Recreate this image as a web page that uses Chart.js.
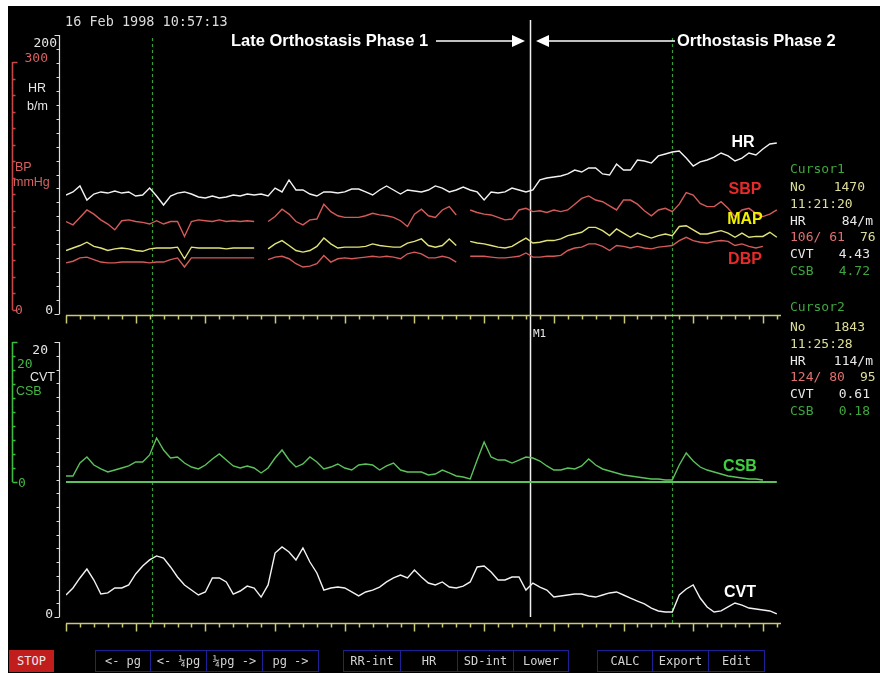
<!DOCTYPE html>
<html>
<head>
<meta charset="utf-8">
<script src="https://cdn.jsdelivr.net/npm/chart.js@4.4.1/dist/chart.umd.min.js"></script>
<style>
  html, body { margin: 0; padding: 0; background: #fff; }
  #screen { position: relative; width: 880px; height: 673px; overflow: hidden; background: #fff; }
  #black { position: absolute; left: 8px; top: 6px; right: 0; bottom: 0; background: #000; }
  #trend { position: absolute; left: 0; top: 0; }
  .btn { position: absolute; top: 650px; height: 22px; box-sizing: border-box; border: 1px solid #1f1f96;
         color: #d2d2d2; font: 12px "DejaVu Sans Mono", monospace; line-height: 20px; text-align: center; white-space: pre; }
  .stop { background: #c21d1d; border-color: #c21d1d; color: #f2e6e6; }
</style>
</head>
<body>
<div id="screen">
  <div id="black"></div>
  <canvas id="trend" width="880" height="673"></canvas>
</div>
<script>
// beat numbers of the samples (x axis)
const beats = [
  1408,1413,1418,1423,1428,1433,1438,1443,1448,1453,
  1458,1463,1468,1473,1478,1483,1488,1493,1498,1503,
  1508,1513,1518,1523,1528,1533,1538,1543,1548,1553,
  1558,1563,1568,1573,1578,1583,1588,1593,1598,1603,
  1608,1613,1618,1623,1628,1633,1638,1643,1648,1653,
  1658,1663,1668,1673,1678,1683,1688,1693,1698,1703,
  1708,1713,1718,1723,1728,1733,1738,1743,1748,1753,
  1758,1763,1768,1773,1778,1783,1788,1793,1798,1803,
  1808,1813,1818,1823,1828,1833,1838,1843,1848,1853,
  1858,1863,1868,1873,1878,1883,1888,1893,1898,1903,
  1908,1913,1918
];

// heart rate, b/m
const hrBpm = [
  85.3,87.5,91.8,81.7,86.0,87.5,86.7,88.2,86.7,87.5,
  84.6,85.3,90.3,84.6,78.1,84.6,86.7,87.5,86.0,83.9,
  83.2,84.6,83.2,83.9,85.3,84.6,86.0,85.3,86.0,84.6,
  90.3,87.5,96.1,88.9,88.9,86.0,84.6,87.5,87.5,86.7,
  87.5,89.6,89.6,87.5,85.3,88.9,91.8,88.9,86.0,88.9,
  88.2,87.5,88.9,91.8,90.3,87.5,88.9,91.0,88.9,87.5,
  81.7,87.5,86.7,87.5,90.3,88.9,87.5,88.9,96.1,97.5,
  98.2,98.9,100.4,103.2,101.8,104.7,104.7,100.4,99.6,107.5,
  103.2,103.2,110.4,109.7,108.2,113.3,114.7,116.1,116.8,111.8,
  106.1,109.0,110.4,112.5,115.4,113.3,109.7,111.8,115.4,114.0,
  118.3,121.9,122.6
];

// blood pressure, mmHg
const sbp = [
  107,103,112,121,116,109,104,97,108,109,
  107,106,104,108,104,107,107,89,107,109,
  108,107,109,107,108,107,108,107,null,107,
  113,122,116,107,103,109,110,128,119,114,
  112,112,112,114,117,115,114,112,108,101,
  116,122,114,112,121,125,115,null,121,118,
  116,115,112,109,110,121,123,119,120,118,
  121,119,121,128,135,138,133,131,126,121,
  133,133,128,120,114,121,123,119,128,142,
  139,129,125,125,131,123,113,121,123,117,
  113,116,121
];
const map = [
  72,75,78,82,77,75,72,74,75,74,
  72,71,74,75,75,75,76,62,76,75,
  75,75,75,74,75,75,75,75,null,74,
  80,84,78,72,70,72,77,87,80,75,
  76,76,76,77,80,78,77,76,76,81,
  83,86,78,76,78,86,78,null,83,81,
  80,78,76,75,77,82,87,81,82,84,
  84,86,90,92,94,100,100,96,90,98,
  93,88,93,90,87,90,92,90,101,102,
  97,92,92,94,96,93,88,93,88,89,
  89,94,88
];
const dbp = [
  57,59,63,64,61,58,57,57,58,58,
  58,58,57,58,58,61,63,52,63,63,
  63,63,63,63,63,63,63,63,null,61,
  64,65,62,56,52,53,56,66,58,62,
  63,62,63,64,65,64,65,64,62,68,
  70,68,63,63,65,63,58,null,65,65,
  65,64,63,63,64,65,69,64,64,65,
  65,66,72,75,76,80,80,77,72,78,
  77,75,77,75,74,76,77,78,84,88,
  84,82,81,83,84,83,78,80,77,75,
  77,null,null
];

// baroreflex measures
const csb = [
  0.86,0.86,2.71,3.57,2.43,1.86,1.43,1.71,2.0,2.29,
  2.86,2.86,3.86,6.29,4.57,3.43,3.57,2.71,2.14,1.86,
  2.43,3.29,4.0,3.14,2.29,2.0,2.29,2.0,1.29,2.0,
  3.43,4.57,3.14,2.14,2.57,3.57,2.86,1.86,2.14,2.57,
  2.0,1.71,2.43,2.57,2.43,1.71,2.29,2.71,1.71,1.43,
  1.43,1.43,1.0,1.14,1.71,1.29,0.86,0.71,0.43,3.14,
  5.71,3.57,3.14,3.14,2.71,3.14,3.57,3.43,3.0,2.29,
  1.71,1.71,2.0,1.86,2.29,3.29,2.43,1.86,1.57,1.29,
  1.0,0.86,0.71,0.57,0.43,0.43,0.29,0.29,2.43,4.14,
  3.0,2.14,1.71,1.43,1.14,0.86,0.71,0.57,0.43,0.43,
  0.29,null,null
];
const cvt = [
  1.6,2.11,2.84,3.49,2.69,1.67,1.75,2.11,2.11,2.33,
  3.13,3.71,4.15,4.44,4.29,3.64,2.91,2.33,1.96,1.6,
  1.82,2.84,2.84,2.55,1.67,1.89,2.25,2.11,1.45,2.33,
  4.65,5.09,4.73,4.15,5.02,4.0,3.2,1.96,2.11,2.18,
  2.11,1.82,1.53,1.82,1.96,2.18,2.55,2.84,3.05,2.84,
  3.42,2.91,2.47,2.33,2.55,2.18,2.11,2.25,2.55,3.64,
  3.71,3.27,2.69,2.69,2.91,2.91,1.96,2.47,2.18,1.96,
  1.45,1.53,1.6,1.67,1.67,1.53,1.45,1.6,1.75,1.82,
  1.6,1.38,1.16,0.95,0.65,0.44,0.36,0.36,1.6,2.04,
  2.33,1.38,0.73,0.36,0.44,0.73,1.02,0.87,0.65,0.58,
  0.51,0.44,0.22
];

// cursors and marker
const cursorBeats = [1470, 1843];
const cursorTime = ['11:21:20', '11:25:28'];
const cursorHR = [84, 114];
const cursorSBP = [106, 124];
const cursorDBP = [61, 80];
const cursorMAP = [76, 95];
const cursorCVT = ['4.43', '0.61'];
const cursorCSB = ['4.72', '0.18'];
const markerBeat = 1741;

const mono = '"DejaVu Sans Mono", monospace';
const sans = '"Liberation Sans", Arial, sans-serif';

// plot frame in page pixels
const area = { left: 66, right: 781, top: 35, bottom: 623 };

// value v0 at pixel p0, v1 at pixel p1 -> min/max over the whole plot frame
function span(v0, p0, v1, p1) {
  const k = (p0 - p1) / (v1 - v0);
  return { min: v0 - (area.bottom - p0) / k, max: v1 + (p1 - area.top) / k };
}

function pts(vals) {
  return beats.map((b, i) => ({ x: b, y: vals[i] }));
}

function txt(ctx, s, x, y, color, font, align) {
  ctx.font = font;
  ctx.fillStyle = color;
  ctx.textAlign = align || 'left';
  ctx.textBaseline = 'middle';
  ctx.fillText(s, x, y);
}

function bracket(ctx, scale, x0, v0, v1, step, dir, color, width) {
  ctx.strokeStyle = color;
  ctx.lineWidth = width;
  ctx.beginPath();
  ctx.moveTo(x0, scale.getPixelForValue(v0));
  ctx.lineTo(x0, scale.getPixelForValue(v1));
  for (let v = v0; v <= v1 + 1e-9; v += step) {
    const py = Math.round(scale.getPixelForValue(v)) + 0.5;
    const len = (v === v0 || v1 - v < 1e-9) ? 5 : 3;
    ctx.moveTo(x0, py);
    ctx.lineTo(x0 + dir * len, py);
  }
  ctx.stroke();
}

const decor = {
  id: 'decor',
  beforeDatasetsDraw(chart) {
    const { ctx, chartArea: ca, scales: s } = chart;
    ctx.save();

    // cursor lines
    ctx.setLineDash([3, 3]);
    ctx.strokeStyle = '#3a9e3a';
    ctx.lineWidth = 1.2;
    cursorBeats.forEach(b => {
      const px = Math.round(s.x.getPixelForValue(b)) + 0.5;
      ctx.beginPath();
      ctx.moveTo(px, 38);
      ctx.lineTo(px, ca.bottom);
      ctx.stroke();
    });
    ctx.setLineDash([]);

    // M1 marker
    const mx = Math.round(s.x.getPixelForValue(markerBeat)) + 0.5;
    ctx.strokeStyle = '#f0f0f0';
    ctx.lineWidth = 1.5;
    ctx.beginPath();
    ctx.moveTo(mx, 20);
    ctx.lineTo(mx, s.yCVT.getPixelForValue(0));
    ctx.stroke();

    // beat axes under each panel
    ctx.strokeStyle = '#c8c878';
    ctx.lineWidth = 1.5;
    [s.yHR.getPixelForValue(0) + 1.5, ca.bottom + 0.5].forEach(ay => {
      ctx.beginPath();
      ctx.moveTo(ca.left, ay);
      ctx.lineTo(ca.right, ay);
      for (let b = s.x.min; b <= s.x.max; b += 10) {
        const px = Math.round(s.x.getPixelForValue(b)) + 0.5;
        const major = (b - s.x.min) % 50 === 0;
        ctx.moveTo(px, ay);
        ctx.lineTo(px, ay + (major ? 8 : 4));
      }
      ctx.stroke();
    });

    // value axes
    bracket(ctx, s.yHR, 59.5, 0, 200, 10, -1, '#dcdcdc', 1.2);
    bracket(ctx, s.yBP, 12.5, 0, 300, 20, 1, '#c84646', 1.6);
    bracket(ctx, s.yCVT, 59.5, 0, 20, 1, -1, '#dcdcdc', 1.2);
    bracket(ctx, s.yCSB, 12.5, 0, 20, 2, 1, '#3cbc3c', 1.6);

    ctx.restore();
  },
  afterDraw(chart) {
    const ctx = chart.ctx;
    ctx.save();

    txt(ctx, '16 Feb 1998 10:57:13', 65, 22, '#dcdcdc', `13.5px ${mono}`);

    // phase titles with arrows
    const tf = `bold 16.5px ${sans}`;
    txt(ctx, 'Late Orthostasis Phase 1', 231, 41, '#ffffff', tf);
    txt(ctx, 'Orthostasis Phase 2', 677, 41, '#ffffff', tf);
    ctx.strokeStyle = '#ffffff';
    ctx.fillStyle = '#ffffff';
    ctx.lineWidth = 1.5;
    ctx.beginPath();
    ctx.moveTo(436, 41); ctx.lineTo(513, 41);
    ctx.moveTo(548, 41); ctx.lineTo(675, 41);
    ctx.stroke();
    ctx.beginPath();
    ctx.moveTo(525, 41); ctx.lineTo(512, 35); ctx.lineTo(512, 47); ctx.closePath();
    ctx.moveTo(536, 41); ctx.lineTo(549, 35); ctx.lineTo(549, 47); ctx.closePath();
    ctx.fill();

    // left axis labels
    const nf = `13px ${mono}`;
    const wf = `12.5px ${sans}`;
    txt(ctx, '200', 57, 44, '#e6e6e6', nf, 'right');
    txt(ctx, '300', 48, 59, '#d86060', nf, 'right');
    txt(ctx, 'HR', 28, 89, '#e6e6e6', wf);
    txt(ctx, 'b/m', 27, 107, '#e6e6e6', wf);
    txt(ctx, 'BP', 15, 168, '#d86060', wf);
    txt(ctx, 'mmHg', 13, 183, '#d86060', wf);
    txt(ctx, '0', 53, 311, '#e6e6e6', nf, 'right');
    txt(ctx, '0', 15, 311, '#d86060', nf);
    txt(ctx, '20', 48, 351, '#e6e6e6', nf, 'right');
    txt(ctx, '20', 17, 365, '#45b545', nf);
    txt(ctx, 'CVT', 30, 378, '#e6e6e6', wf);
    txt(ctx, 'CSB', 16, 392, '#45b545', wf);
    txt(ctx, '0', 18, 484, '#45b545', nf);
    txt(ctx, '0', 53, 615, '#e6e6e6', nf, 'right');

    // trace names
    const lf = `bold 16px ${sans}`;
    txt(ctx, 'HR', 743, 143, '#ffffff', lf, 'center');
    txt(ctx, 'SBP', 745, 190, '#e82a2a', lf, 'center');
    txt(ctx, 'MAP', 745, 220, '#f2f200', lf, 'center');
    txt(ctx, 'DBP', 745, 260, '#e82a2a', lf, 'center');
    txt(ctx, 'CSB', 740, 467, '#3fd03f', lf, 'center');
    txt(ctx, 'CVT', 740, 593, '#ffffff', lf, 'center');

    txt(ctx, 'M1', 533, 334, '#e6e6e6', `11px ${mono}`);

    // cursor readouts
    const green = '#3fa63f', yellow = '#dede9a', white = '#e8e8e8', red = '#e07070';
    const rows = [[170, 188, 205, 222, 238, 255, 272], [308, 328, 345, 362, 378, 395, 412]];
    rows.forEach((r, i) => {
      txt(ctx, 'Cursor' + (i + 1), 790, r[0], green, nf);
      txt(ctx, 'No', 790, r[1], yellow, nf);
      txt(ctx, String(cursorBeats[i]), 865, r[1], yellow, nf, 'right');
      txt(ctx, cursorTime[i], 790, r[2], yellow, nf);
      txt(ctx, 'HR', 790, r[3], white, nf);
      txt(ctx, cursorHR[i] + '/m', 873, r[3], white, nf, 'right');
      txt(ctx, cursorSBP[i] + '/' + String(cursorDBP[i]).padStart(3, ' '), 790, r[4], red, nf);
      txt(ctx, String(cursorMAP[i]), 860, r[4], yellow, nf);
      txt(ctx, 'CVT', 790, r[5], white, nf);
      txt(ctx, cursorCVT[i], 870, r[5], white, nf, 'right');
      txt(ctx, 'CSB', 790, r[6], green, nf);
      txt(ctx, cursorCSB[i], 870, r[6], green, nf, 'right');
    });

    ctx.restore();
  }
};

const line = { borderWidth: 1.4, pointRadius: 0, tension: 0, spanGaps: false, fill: false };

new Chart(document.getElementById('trend'), {
  type: 'line',
  data: {
    datasets: [
      { ...line, label: 'HR', data: pts(hrBpm), yAxisID: 'yHR', borderColor: '#f2f2f2' },
      { ...line, label: 'SBP', data: pts(sbp), yAxisID: 'yBP', borderColor: '#d65a5a' },
      { ...line, label: 'MAP', data: pts(map), yAxisID: 'yBP', borderColor: '#e2e27a' },
      { ...line, label: 'DBP', data: pts(dbp), yAxisID: 'yBP', borderColor: '#d65a5a' },
      { ...line, label: 'CSB zero', data: beats.map(b => ({ x: b, y: 0 })), yAxisID: 'yCSB', borderColor: '#5cc25c', borderWidth: 2 },
      { ...line, label: 'CSB', data: pts(csb), yAxisID: 'yCSB', borderColor: '#5cc25c' },
      { ...line, label: 'CVT', data: pts(cvt), yAxisID: 'yCVT', borderColor: '#f2f2f2' }
    ]
  },
  options: {
    responsive: false,
    animation: false,
    events: [],
    layout: { padding: { left: area.left, right: 880 - area.right, top: area.top, bottom: 673 - area.bottom } },
    plugins: { legend: { display: false }, tooltip: { enabled: false } },
    scales: {
      x: { type: 'linear', min: 1408, max: 1921, display: false },
      yHR: { type: 'linear', display: false, ...span(0, 314, 200, 35) },
      yBP: { type: 'linear', display: false, ...span(0, 310, 300, 62) },
      yCSB: { type: 'linear', display: false, ...span(0, 482, 20, 342) },
      yCVT: { type: 'linear', display: false, ...span(0, 617, 20, 342) }
    }
  },
  plugins: [decor]
});

// button bar
const buttons = [
  { t: 'STOP', l: 9, r: 53, stop: true },
  { t: '<- pg', l: 95, r: 150 }, { t: '<- ¼pg', l: 150, r: 206 }, { t: '¼pg ->', l: 206, r: 262 }, { t: 'pg ->', l: 262, r: 318 },
  { t: 'RR-int', l: 343, r: 400 }, { t: 'HR', l: 400, r: 457 }, { t: 'SD-int', l: 457, r: 513 }, { t: 'Lower', l: 513, r: 568 },
  { t: 'CALC', l: 597, r: 652 }, { t: 'Export', l: 652, r: 708 }, { t: 'Edit', l: 708, r: 764 }
];
const screen = document.getElementById('screen');
buttons.forEach(b => {
  const d = document.createElement('div');
  d.className = 'btn' + (b.stop ? ' stop' : '');
  d.style.left = b.l + 'px';
  d.style.width = (b.r - b.l + 1) + 'px';
  d.textContent = b.t;
  screen.appendChild(d);
});
</script>
</body>
</html>
